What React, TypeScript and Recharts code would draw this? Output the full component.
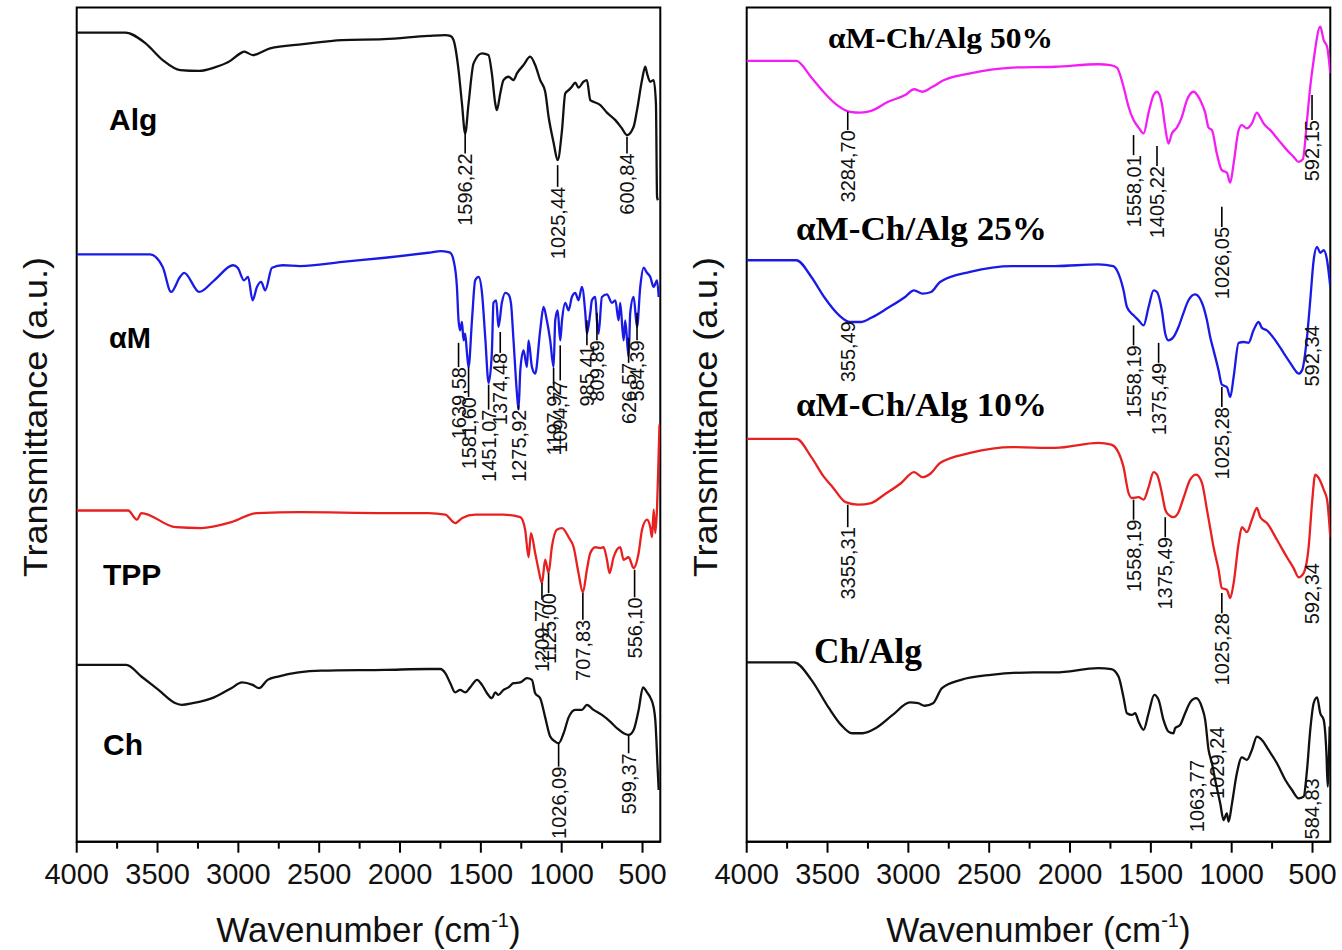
import React from "react";
import { LineChart, Line, XAxis, YAxis, ReferenceArea, ReferenceLine, ReferenceDot, Customized } from "recharts";

// FTIR spectra, wavenumber (cm-1) vs transmittance (a.u., offset per sample)
type Pt = [number, number];
// annotation: [position (cm-1), leader top (a.u.), text top (a.u.), text]
type Note = [number, number, number, string];

const X_TICKS = [4000, 3750, 3500, 3250, 3000, 2750, 2500, 2250, 2000, 1750, 1500, 1250, 1000, 750, 500];

const alg: Pt[] = [
  [4000, 97.0], [3700, 97.0], [3574, 95.7], [3468, 93.7], [3360, 92.5], [3242, 92.4], [3150, 92.8], [3050, 93.6],
  [2988, 94.5], [2963, 94.7], [2911, 94.3], [2804, 95.1], [2600, 95.6], [2357, 96.1], [2100, 96.2], [1825, 96.6],
  [1720, 96.7], [1689, 96.6], [1669, 96.1], [1638, 92.5], [1617, 88.5], [1597, 84.9], [1576, 88.5], [1545, 93.3],
  [1493, 94.5], [1453, 94.3], [1432, 92.1], [1411, 88.5], [1401, 87.7], [1380, 89.7], [1360, 91.3], [1329, 91.7],
  [1298, 91.3], [1277, 92.1], [1236, 93.1], [1195, 94.1], [1164, 93.1], [1133, 91.3], [1102, 89.9], [1081, 86.9],
  [1050, 83.8], [1025, 81.7], [998, 85.3], [978, 89.7], [957, 90.1], [937, 90.5], [916, 91.0], [896, 90.4],
  [865, 91.1], [844, 91.3], [823, 88.9], [803, 88.7], [761, 88.3], [720, 87.4], [668, 86.5], [627, 85.5],
  [596, 84.7], [555, 85.7], [534, 87.7], [503, 91.3], [483, 92.9], [472, 92.1], [452, 91.1], [431, 91.3],
  [417, 88.5], [410, 77.3], [405, 76.9],
];

const alphaM: Pt[] = [
  [4000, 70.4], [3546, 70.4], [3468, 68.9], [3416, 65.9], [3361, 67.7], [3335, 68.2], [3242, 65.9], [3149, 67.3],
  [3032, 69.1], [3004, 68.8], [2965, 67.3], [2940, 67.7], [2912, 64.9], [2885, 66.5], [2859, 67.1], [2834, 66.1],
  [2792, 68.8], [2726, 69.1], [2618, 69.0], [2357, 69.5], [2092, 70.0], [1825, 70.6], [1745, 70.8], [1707, 70.7],
  [1689, 70.6], [1669, 69.7], [1648, 66.5], [1638, 62.5], [1628, 61.3], [1617, 62.3], [1607, 60.1], [1597, 60.9],
  [1586, 58.6], [1576, 56.9], [1555, 62.5], [1535, 67.3], [1514, 67.7], [1493, 65.8], [1473, 60.5], [1452, 55.0],
  [1432, 58.6], [1422, 64.6], [1405, 64.9], [1391, 61.7], [1370, 64.6], [1349, 65.8], [1329, 65.6], [1314, 64.6],
  [1298, 60.1], [1277, 53.8], [1267, 51.8], [1256, 56.5], [1236, 58.9], [1215, 56.9], [1205, 60.1], [1184, 56.9],
  [1164, 56.1], [1133, 61.3], [1112, 64.1], [1092, 62.5], [1071, 60.1], [1050, 56.9], [1040, 62.5], [1025, 63.7],
  [1009, 60.1], [998, 62.5], [978, 64.6], [957, 63.7], [937, 65.3], [916, 65.8], [896, 64.9], [875, 66.5],
  [854, 63.4], [844, 60.9], [823, 63.4], [813, 64.9], [792, 65.3], [782, 62.5], [772, 60.9], [751, 65.3],
  [720, 65.6], [689, 64.6], [668, 64.9], [648, 62.5], [638, 64.6], [617, 60.1], [607, 62.5], [586, 58.1],
  [576, 63.4], [555, 65.3], [534, 61.7], [514, 66.5], [493, 68.8], [472, 68.2], [452, 67.7], [431, 66.5],
  [410, 67.3], [400, 65.3],
];

const tpp: Pt[] = [
  [4000, 39.7], [3682, 39.7], [3627, 38.6], [3600, 39.4], [3388, 37.7], [3230, 37.6], [3044, 38.3], [2885, 39.4],
  [2618, 39.5], [2092, 39.4], [1825, 39.4], [1720, 39.2], [1659, 38.2], [1615, 38.8], [1535, 39.2], [1360, 39.2],
  [1256, 38.9], [1226, 37.4], [1205, 34.1], [1190, 37.0], [1164, 34.6], [1143, 32.6], [1122, 31.0], [1102, 33.8],
  [1081, 32.2], [1061, 35.3], [1030, 37.4], [998, 37.6], [957, 36.5], [926, 35.3], [896, 32.2], [869, 29.9],
  [844, 32.6], [823, 34.6], [792, 35.3], [761, 35.2], [741, 35.3], [720, 33.8], [704, 32.2], [679, 34.1],
  [638, 35.3], [617, 33.8], [586, 34.1], [555, 32.8], [524, 34.6], [503, 37.4], [472, 38.6], [452, 37.7],
  [441, 36.5], [431, 39.8], [421, 37.0], [410, 40.1], [400, 46.6], [395, 50.0],
];

const ch: Pt[] = [
  [4000, 21.2], [3693, 21.2], [3600, 19.8], [3494, 18.2], [3388, 16.6], [3349, 16.4], [3283, 16.6], [3150, 17.3],
  [3044, 18.4], [2977, 19.1], [2912, 18.8], [2872, 18.4], [2819, 19.4], [2754, 19.8], [2488, 20.5], [2092, 20.6],
  [1825, 20.7], [1750, 20.7], [1720, 20.2], [1689, 19.0], [1659, 17.9], [1628, 18.2], [1597, 17.9], [1566, 18.5],
  [1524, 19.4], [1493, 18.8], [1462, 17.8], [1432, 17.2], [1411, 17.9], [1391, 17.6], [1360, 18.2], [1329, 18.5],
  [1298, 19.0], [1256, 19.1], [1215, 19.6], [1184, 19.4], [1164, 17.8], [1133, 17.2], [1102, 14.9], [1071, 12.6],
  [1040, 12.0], [1019, 11.8], [988, 13.0], [957, 14.9], [916, 15.8], [875, 15.8], [844, 16.4], [803, 15.8],
  [751, 15.2], [700, 14.4], [658, 13.6], [617, 13.0], [586, 12.8], [555, 13.4], [524, 15.8], [497, 18.5],
  [472, 17.9], [452, 17.3], [431, 16.1], [421, 14.6], [406, 8.6], [400, 6.2],
];

const blend50: Pt[] = [
  [4000, 93.6], [3693, 93.6], [3600, 91.6], [3521, 89.8], [3441, 88.3], [3361, 87.5], [3296, 87.4], [3230, 87.6],
  [3125, 88.7], [3020, 89.5], [2965, 90.2], [2912, 89.9], [2859, 90.4], [2779, 91.3], [2618, 92.1], [2355, 92.8],
  [2092, 92.9], [1825, 93.2], [1751, 93.1], [1710, 92.8], [1669, 90.5], [1638, 88.1], [1607, 86.5], [1576, 85.6],
  [1545, 84.9], [1514, 87.4], [1483, 89.5], [1462, 89.9], [1432, 88.5], [1411, 85.6], [1391, 83.7], [1370, 84.9],
  [1339, 85.6], [1308, 86.9], [1277, 88.9], [1236, 89.9], [1195, 88.9], [1164, 87.4], [1143, 85.6], [1122, 85.3],
  [1092, 82.5], [1061, 80.5], [1030, 80.2], [1009, 79.0], [988, 81.3], [957, 85.3], [937, 85.9], [906, 85.5],
  [875, 86.1], [844, 87.4], [823, 86.8], [803, 86.1], [761, 85.3], [710, 84.1], [658, 82.9], [617, 82.1],
  [586, 81.5], [560, 81.8], [534, 86.5], [514, 90.5], [493, 93.7], [452, 97.7], [431, 96.1], [410, 95.3],
  [390, 92.1],
];

const blend25: Pt[] = [
  [4000, 69.7], [3693, 69.7], [3600, 67.7], [3521, 65.3], [3428, 63.1], [3361, 62.3], [3296, 62.3], [3230, 62.8],
  [3125, 64.0], [3020, 65.3], [2965, 66.1], [2912, 65.7], [2859, 65.9], [2804, 67.1], [2618, 68.3], [2355, 69.0],
  [2092, 69.0], [1825, 69.2], [1733, 69.0], [1710, 68.5], [1669, 66.1], [1648, 64.1], [1607, 63.1], [1576, 62.5],
  [1545, 61.9], [1514, 64.1], [1483, 66.1], [1462, 65.9], [1432, 63.7], [1411, 60.9], [1391, 60.1], [1360, 60.5],
  [1329, 61.7], [1298, 63.4], [1267, 64.9], [1226, 65.6], [1184, 64.6], [1153, 62.5], [1133, 60.5], [1112, 58.9],
  [1081, 56.5], [1061, 54.8], [1030, 54.5], [1009, 53.3], [988, 55.7], [957, 59.8], [926, 59.9], [896, 59.8],
  [865, 61.3], [834, 62.3], [813, 61.6], [782, 61.3], [730, 60.1], [679, 58.6], [638, 57.4], [607, 56.5],
  [586, 56.1], [565, 56.5], [534, 60.5], [514, 64.9], [493, 69.7], [472, 71.3], [452, 70.6], [431, 70.9],
  [410, 69.7], [390, 66.5],
];

const blend10: Pt[] = [
  [4000, 48.3], [3693, 48.3], [3600, 46.1], [3521, 43.7], [3468, 42.5], [3388, 40.7], [3311, 40.4], [3230, 40.6],
  [3150, 41.6], [3044, 43.0], [2965, 44.3], [2912, 43.7], [2859, 44.2], [2804, 45.4], [2618, 46.6], [2355, 47.3],
  [2092, 47.2], [1825, 47.8], [1745, 47.6], [1710, 47.0], [1669, 44.9], [1638, 41.8], [1617, 41.2], [1576, 41.3],
  [1545, 41.0], [1514, 42.5], [1483, 44.3], [1462, 44.0], [1432, 41.8], [1411, 39.8], [1391, 39.2], [1360, 38.9],
  [1329, 39.5], [1298, 41.2], [1257, 43.4], [1220, 44.0], [1184, 43.0], [1153, 39.8], [1133, 37.6], [1112, 35.3],
  [1081, 32.6], [1061, 30.4], [1030, 30.2], [1009, 29.2], [988, 31.0], [957, 35.8], [937, 37.7], [906, 37.1],
  [875, 38.6], [844, 40.0], [823, 38.9], [782, 38.2], [720, 36.2], [658, 34.1], [617, 32.8], [586, 31.7],
  [555, 32.2], [524, 35.3], [503, 40.6], [483, 44.0], [462, 43.6], [431, 42.2], [410, 41.0], [390, 36.5],
];

const chAlg: Pt[] = [
  [4000, 21.5], [3707, 21.5], [3600, 19.4], [3494, 16.1], [3416, 14.0], [3349, 13.0], [3283, 13.0], [3203, 13.6],
  [3097, 15.2], [2990, 16.7], [2940, 16.6], [2898, 16.3], [2847, 16.6], [2792, 18.4], [2674, 19.4], [2488, 20.0],
  [2222, 20.3], [2092, 20.3], [1825, 20.8], [1745, 20.7], [1700, 19.8], [1669, 17.3], [1648, 15.4], [1617, 15.2],
  [1597, 15.4], [1576, 14.4], [1545, 13.4], [1514, 15.4], [1479, 17.6], [1452, 17.0], [1422, 14.6], [1391, 13.2],
  [1360, 13.0], [1350, 13.6], [1319, 14.0], [1288, 15.4], [1257, 16.7], [1220, 17.2], [1184, 16.1], [1164, 14.6],
  [1143, 11.0], [1122, 9.4], [1102, 7.4], [1071, 4.6], [1050, 2.6], [1030, 3.4], [1019, 2.4], [998, 4.6],
  [968, 8.2], [937, 10.1], [906, 9.8], [875, 11.0], [844, 12.6], [813, 12.2], [772, 11.0], [720, 9.4],
  [668, 7.4], [627, 6.2], [586, 5.2], [555, 5.4], [534, 8.6], [514, 13.4], [493, 16.6], [472, 17.3],
  [452, 15.4], [431, 14.6], [414, 10.6], [406, 6.6], [394, 13.8],
];

const leftNotes: Note[] = [
  [1597, 84.9, 82.5, "1596,22"], [1025, 81.1, 78.5, "1025,44"], [596, 84.5, 82.5, "600,84"],
  [1638, 59.8, 56.9, "1639,58"], [1576, 56.9, 53.3, "1581,60"], [1452, 54.8, 51.8, "1451,07"],
  [1380, 61.1, 58.6, "1374,48"], [1267, 52.3, 51.8, "1275,92"], [1050, 56.8, 54.8, "1197,92"],
  [1009, 59.5, 55.3, "1094,77"], [844, 62.5, 59.5, "985,41"], [782, 63.4, 60.1, "809,89"],
  [586, 60.4, 57.4, "626,57"], [534, 63.4, 60.1, "584,39"],
  [1122, 31.0, 29.0, "1209,77"], [1081, 32.2, 29.8, "1125,00"], [869, 29.8, 26.6, "707,83"], [549, 32.6, 29.3, "556,10"],
  [1019, 11.8, 9.0, "1026,09"], [586, 12.8, 10.6, "599,37"],
];

const rightNotes: Note[] = [
  [3375, 87.5, 85.3, "3284,70"], [1607, 84.7, 82.3, "1558,01"], [1462, 83.4, 81.0, "1405,22"],
  [1061, 76.1, 73.7, "1026,05"], [503, 89.5, 86.5, "592,15"],
  [3375, 62.4, 62.4, "355,49"], [1607, 61.9, 59.5, "1558,19"], [1452, 59.8, 57.4, "1375,49"],
  [1061, 54.5, 52.1, "1025,28"], [503, 61.9, 61.9, "592,34"],
  [3375, 40.4, 37.7, "3355,31"], [1607, 41.0, 38.6, "1558,19"], [1411, 38.9, 36.5, "1375,49"],
  [1061, 29.8, 27.4, "1025,28"], [503, 33.4, 33.4, "592,34"],
  [1216, 9.8, 9.8, "1063,77"], [1092, 13.8, 13.8, "1029,24"], [503, 7.6, 7.6, "584,83"],
];

const SANS = '"Liberation Sans", Arial, sans-serif';
const SERIF = '"Liberation Serif", "Times New Roman", serif';
const BLACK = "#111111";
const BLUE = "#1a1ae6";
const RED = "#e82020";
const MAGENTA = "#f41ef4";

const toRows = (pts: Pt[]) => pts.map(([wn, t]) => ({ wn, t }));

const leftSeries = [
  { name: "Alg", data: toRows(alg), color: BLACK },
  { name: "aM", data: toRows(alphaM), color: BLUE },
  { name: "TPP", data: toRows(tpp), color: RED },
  { name: "Ch", data: toRows(ch), color: BLACK },
];

const rightSeries = [
  { name: "50", data: toRows(blend50), color: MAGENTA },
  { name: "25", data: toRows(blend25), color: BLUE },
  { name: "10", data: toRows(blend10), color: RED },
  { name: "ChAlg", data: toRows(chAlg), color: BLACK },
];

const leftNames = [
  { text: "Alg", x: 109, y: 130, size: 30, font: SANS, len: 0 },
  { text: "αM", x: 109, y: 348, size: 29, font: SANS, len: 0 },
  { text: "TPP", x: 103, y: 585, size: 30, font: SANS, len: 0 },
  { text: "Ch", x: 103, y: 755, size: 30, font: SANS, len: 0 },
];

const rightNames = [
  { text: "αM-Ch/Alg 50%", x: 158, y: 48, size: 30, font: SERIF, len: 225 },
  { text: "αM-Ch/Alg 25%", x: 126, y: 240, size: 34, font: SERIF, len: 251 },
  { text: "αM-Ch/Alg 10%", x: 126, y: 416, size: 34, font: SERIF, len: 251 },
  { text: "Ch/Alg", x: 144, y: 663, size: 35, font: SERIF, len: 108 },
];

function XTick(props: any) {
  const { x, y, payload } = props;
  const major = payload.value % 500 === 0;
  return (
    <g>
      <line x1={x} y1={y} x2={x} y2={y + (major ? 11 : 7)} stroke="#000" strokeWidth={2} />
      {major && (
        <text x={x} y={y + 42} textAnchor="middle" fontFamily={SANS} fontSize={29} fill="#111">
          {payload.value}
        </text>
      )}
    </g>
  );
}

function PeakText({ cx, cy, text }: { cx: number; cy: number; text: string }) {
  return (
    <text
      x={cx}
      y={cy}
      transform={`rotate(-90 ${cx} ${cy})`}
      textAnchor="end"
      dominantBaseline="central"
      fontFamily={SANS}
      fontSize={20}
      fill="#111"
    >
      {text}
    </text>
  );
}

function PanelText({ names }: { names: typeof leftNames }) {
  return (
    <g>
      <text
        x={35}
        y={417}
        transform="rotate(-90 35 417)"
        textAnchor="middle"
        dominantBaseline="central"
        fontFamily={SANS}
        fontSize={34}
        textLength={320}
        lengthAdjust="spacingAndGlyphs"
        fill="#111"
      >
        Transmittance (a.u.)
      </text>
      <text x={368.5} y={942} textAnchor="middle" fontFamily={SANS} fontSize={35} fill="#111">
        Wavenumber (cm
        <tspan fontSize={20} dy={-15}>-1</tspan>
        <tspan dy={15}>)</tspan>
      </text>
      {names.map((n) => (
        <text
          key={n.text}
          x={n.x}
          y={n.y}
          fontFamily={n.font}
          fontWeight="bold"
          fontSize={n.size}
          fill="#000"
          {...(n.len ? { textLength: n.len, lengthAdjust: "spacingAndGlyphs" } : {})}
        >
          {n.text}
        </text>
      ))}
    </g>
  );
}

function Panel({ series, notes, names }: { series: typeof leftSeries; notes: Note[]; names: typeof leftNames }) {
  return (
    <LineChart width={670} height={950} margin={{ top: 7.5, right: 9.7, bottom: 8.3, left: 76.7 }}>
      <XAxis
        type="number"
        dataKey="wn"
        domain={[390, 4000]}
        reversed
        allowDataOverflow
        ticks={X_TICKS}
        interval={0}
        tickLine={false}
        tickSize={0}
        tickMargin={0}
        axisLine={{ stroke: "#000", strokeWidth: 2 }}
        tick={<XTick />}
        height={100}
      />
      <YAxis type="number" domain={[0, 100]} hide allowDataOverflow />
      <ReferenceArea x1={4000} x2={390} y1={0} y2={100} fill="none" stroke="#000" strokeWidth={2} ifOverflow="visible" />
      {series.map((s) => (
        <Line
          key={s.name}
          data={s.data}
          dataKey="t"
          type="monotoneX"
          stroke={s.color}
          strokeWidth={2.3}
          dot={false}
          activeDot={false}
          isAnimationActive={false}
        />
      ))}
      {notes.map(([at, top, textTop], i) =>
        top !== textTop ? (
          <ReferenceLine
            key={`l${i}`}
            segment={[{ x: at, y: top }, { x: at, y: textTop }]}
            stroke="#000"
            strokeWidth={1.6}
            ifOverflow="visible"
          />
        ) : null
      )}
      {notes.map(([at, , textTop, text], i) => (
        <ReferenceDot
          key={`t${i}`}
          x={at}
          y={textTop}
          r={0}
          ifOverflow="visible"
          shape={(p: any) => <PeakText cx={p.cx} cy={p.cy} text={text} />}
        />
      ))}
      <Customized component={<PanelText names={names} />} />
    </LineChart>
  );
}

export default function App() {
  return (
    <div style={{ position: "absolute", left: 0, top: 0, width: 1342, height: 950, background: "#fff", display: "flex" }}>
      <Panel series={leftSeries} notes={leftNotes} names={leftNames} />
      <Panel series={rightSeries} notes={rightNotes} names={rightNames} />
    </div>
  );
}
